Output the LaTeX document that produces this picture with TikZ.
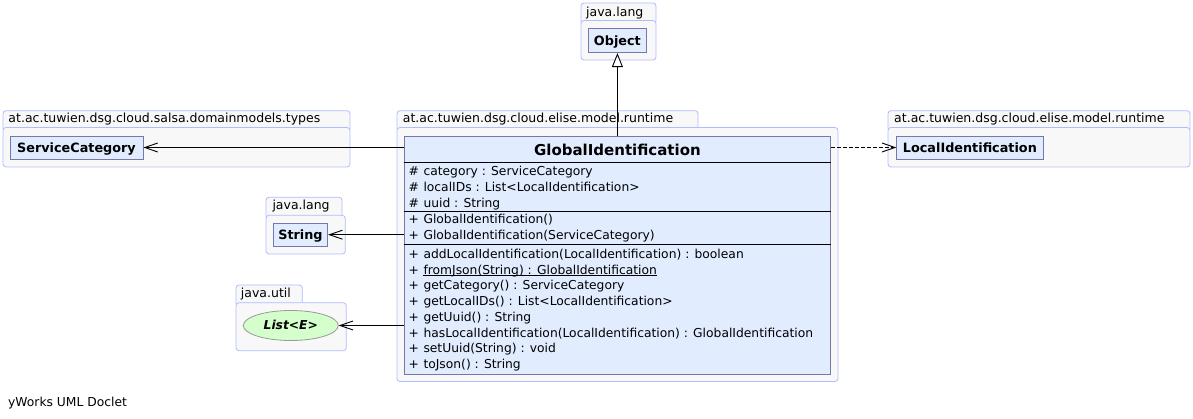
\documentclass[tikz,border=0pt]{standalone}
\usepackage{fontspec}
\setmainfont{DejaVu Sans}
\usetikzlibrary{arrows.meta,shapes.geometric}
\definecolor{pkgline}{HTML}{B0BCFF}
\definecolor{pkgfill}{HTML}{F8F8F8}
\definecolor{clsline}{HTML}{7777B0}
\definecolor{clsfill}{HTML}{E1ECFF}
\definecolor{ifcfill}{HTML}{D4FFCC}

\begin{document}
\begin{tikzpicture}[x=1pt,y=-1pt,
    pkg/.style={draw=pkgline,fill=pkgfill,rounded corners=3pt,line width=0.8pt},
    pkglabel/.style={anchor=base west,inner sep=0pt,font=\fontsize{12.5}{14}\selectfont},
    cls/.style={draw=clsline,fill=clsfill,line width=0.8pt,inner sep=0pt,text height=10pt,text depth=0pt,
        font=\fontsize{12.8}{14}\selectfont\bfseries},
    member/.style={anchor=base west,inner sep=0pt,font=\fontsize{12.3}{14}\selectfont},
    uses/.style={-{Straight Barb[length=13pt,width=9pt]},line width=0.9pt},
    extends/.style={-{Triangle[open,length=14pt,width=11pt,fill=white]},line width=0.9pt}]

    \useasboundingbox (0,0) rectangle (1193,419);

    % packages
    \draw[pkg] (581,3) rectangle (656,24);
    \draw[pkg] (581,20.5) rectangle (656,60);
    \node[pkglabel] (pkgobj) at (586,16.7) {java.lang};

    \draw[pkg] (3,110.7) rectangle (350,131);
    \draw[pkg] (3,127.5) rectangle (350,167);
    \node[pkglabel] (pkgsc) at (8.3,122.7) {at.ac.tuwien.dsg.cloud.salsa.domainmodels.types};

    \draw[pkg] (397,110.7) rectangle (698,131);
    \draw[pkg] (397,127.5) rectangle (838,381.5);
    \node[pkglabel] (pkggid) at (402.7,122.7) {at.ac.tuwien.dsg.cloud.elise.model.runtime};

    \draw[pkg] (888,110.7) rectangle (1190,131);
    \draw[pkg] (888,127.5) rectangle (1190,167);
    \node[pkglabel] (pkglid) at (894,122.7) {at.ac.tuwien.dsg.cloud.elise.model.runtime};

    \draw[pkg] (266,197.3) rectangle (342,219);
    \draw[pkg] (266,215.3) rectangle (345.3,254);
    \node[pkglabel] (pkgstr) at (272.3,210) {java.lang};

    \draw[pkg] (236,285) rectangle (302.3,306);
    \draw[pkg] (236,302.7) rectangle (346.3,350.7);
    \node[pkglabel] (pkglist) at (240.7,297.3) {java.util};

    % classes
    \node[cls,minimum width=58.7pt,minimum height=24.4pt] (obj) at (617.4,40.5) {Object};
    \node[cls,minimum width=133pt,minimum height=23pt] (sc) at (76.5,147.5) {ServiceCategory};
    \node[cls,minimum width=54.4pt,minimum height=22.7pt] (str) at (300.5,234.7) {String};
    \node[cls,minimum width=146.3pt,minimum height=23pt] (lid) at (969.9,147.5) {LocalIdentification};
    \node[ellipse,draw=black!40,fill=ifcfill,line width=0.8pt,inner sep=0pt,minimum width=95pt,minimum height=30pt,
        text height=9pt,text depth=0pt,font=\fontsize{12.3}{14}\selectfont\bfseries\itshape] (list) at (290.8,325.5) {List<E>};

    % GlobalIdentification
    \node[draw=clsline,fill=clsfill,line width=0.8pt,minimum width=426.7pt,minimum height=237.3pt] (gid) at (617.4,255.4) {};
    \node[font=\fontsize{15}{16}\selectfont\bfseries] (gidtitle) at (617.4,149.7) {GlobalIdentification};
    \draw[line width=0.8pt] (gid.west |- 0,162.3) -- (gid.east |- 0,162.3);
    \draw[line width=0.8pt] (gid.west |- 0,211) -- (gid.east |- 0,211);
    \draw[line width=0.8pt] (gid.west |- 0,244.3) -- (gid.east |- 0,244.3);
    \foreach \v/\t [count=\i from 0] in {\#/category : ServiceCategory,\#/localIDs : List<LocalIdentification>,\#/uuid : String}{
        \node[member] (attrv\i) at (408.5,176+16*\i) {\v};
        \node[member] (attr\i) at (423.3,176+16*\i) {\t};
    }
    \foreach \v/\t [count=\i from 0] in {+/GlobalIdentification(),+/GlobalIdentification(ServiceCategory)}{
        \node[member] (ctorv\i) at (408.5,224+16*\i) {\v};
        \node[member] (ctor\i) at (423.3,224+16*\i) {\t};
    }
    \foreach \v/\t [count=\i from 0] in {+/addLocalIdentification(LocalIdentification) : boolean,
        +/fromJson(String) : GlobalIdentification,+/getCategory() : ServiceCategory,
        +/getLocalIDs() : List<LocalIdentification>,+/getUuid() : String,
        +/hasLocalIdentification(LocalIdentification) : GlobalIdentification,+/setUuid(String) : void,+/toJson() : String}{
        \node[member] (methv\i) at (408.5,258.3+15.75*\i) {\v};
        \node[member] (meth\i) at (423.3,258.3+15.75*\i) {\t};
    }
    % static method
    \draw[line width=0.8pt] ([yshift=-1.4pt]meth1.base west) -- ([yshift=-1.4pt]meth1.base east);

    % relations
    \draw[extends] (gid.north) -- (obj.south);
    \draw[uses] (gid.west |- sc.east) -- (sc.east);
    \draw[uses] (gid.west |- str.east) -- (str.east);
    \draw[uses] (gid.west |- list.east) -- (list.east);
    \draw[uses,dash pattern=on 4pt off 2pt] (gid.east |- lid.west) -- (lid.west);

    \node[member] (doclet) at (8,406) {yWorks UML Doclet};
\end{tikzpicture}
\end{document}
